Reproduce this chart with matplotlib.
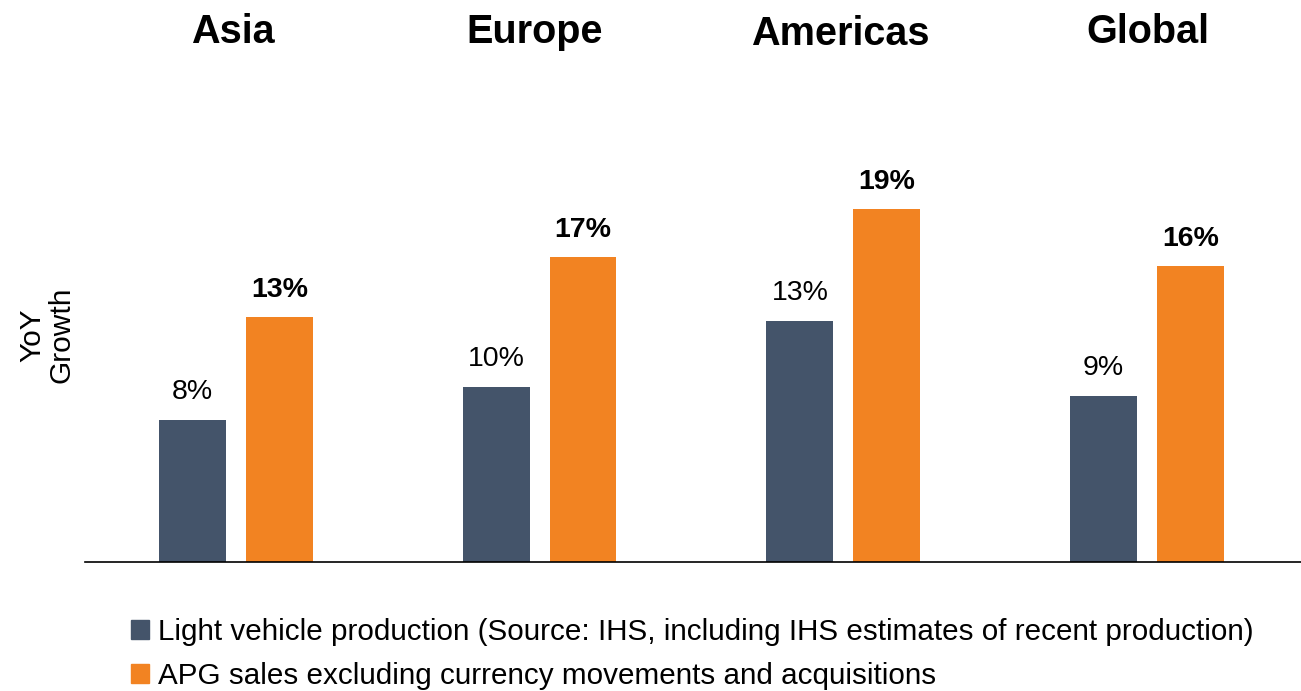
import numpy as np
import matplotlib.pyplot as plt
from matplotlib.patches import Patch

plt.rcParams['font.family'] = ['Liberation Sans', 'DejaVu Sans']

regions = ['Asia', 'Europe', 'Americas', 'Global']
light_vehicle = [7.7, 9.5, 13.1, 9.0]
apg_sales = [13.3, 16.6, 19.2, 16.1]
legend_labels = ['Light vehicle production (Source: IHS, including IHS estimates of recent production)',
                 'APG sales excluding currency movements and acquisitions']

dark = '#44546A'
orange = '#F28322'

fig = plt.figure(figsize=(13.01, 6.91), dpi=100)
ax = fig.add_axes([85 / 1301, 129 / 691, 1 - 85 / 1301, 460 / 691])

x = np.arange(len(regions))
w = 0.22
off = 0.143
b1 = ax.bar(x - off, light_vehicle, w, color=dark)
b2 = ax.bar(x + off, apg_sales, w, color=orange)

for rect, v in zip(b1, light_vehicle):
    ax.annotate(f'{v:.0f}%', (rect.get_x() + rect.get_width() / 2, v),
                xytext=(0, 11), textcoords='offset points', ha='center', va='bottom',
                fontsize=20.5)
for rect, v in zip(b2, apg_sales):
    ax.annotate(f'{v:.0f}%', (rect.get_x() + rect.get_width() / 2, v),
                xytext=(0, 10), textcoords='offset points', ha='center', va='bottom',
                fontsize=20.5, fontweight='bold')

ax.set_xlim(-0.497, 3.507)
ax.set_ylim(0, 25)
for s in ['top', 'right', 'left']:
    ax.spines[s].set_visible(False)
ax.spines['bottom'].set_color('black')
ax.spines['bottom'].set_linewidth(1.2)
ax.set_xticks([])
ax.set_yticks([])

# region headers
title_x = [233, 535, 840, 1148]
title_y = [32, 32, 34, 32]
for r, tx, ty in zip(regions, title_x, title_y):
    fig.text(tx / 1301, 1 - ty / 691, r, ha='center', va='center',
             fontsize=28.5, fontweight='bold')

fig.text(47 / 1301, 1 - 335 / 691, 'YoY\nGrowth', rotation=90, ha='center', va='center',
         fontsize=21.5, linespacing=1.05)

handles = [Patch(color=dark), Patch(color=orange)]
fig.legend(handles, legend_labels, loc='upper left', bbox_to_anchor=(131 / 1301, 1 - 618 / 691),
           frameon=False, fontsize=21.3, handlelength=0.6, handleheight=0.6, handletextpad=0.3,
           labelspacing=0.55, borderaxespad=0, borderpad=0)

fig.savefig('out.png', dpi=100)
